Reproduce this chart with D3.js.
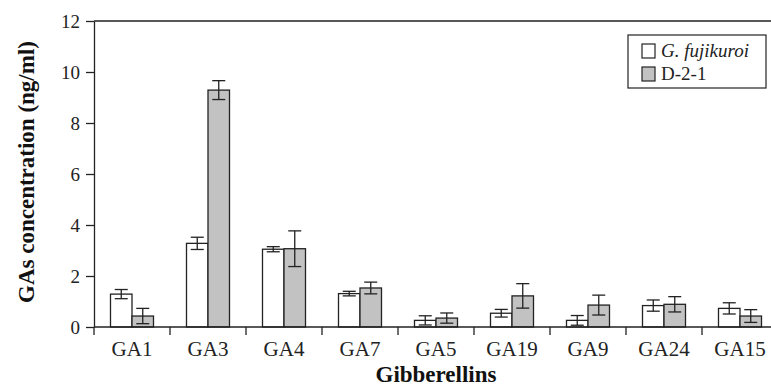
<!DOCTYPE html>
<html>
<head>
<meta charset="utf-8">
<script src="https://cdn.jsdelivr.net/npm/d3@7"></script>
<style>
  body { margin: 0; background: #fff; }
  svg { display: block; font-family: "Liberation Serif", "Times New Roman", serif; }
</style>
</head>
<body>
<svg id="chart" width="771" height="387"></svg>
<script>
// values
const categories = ['GA1', 'GA3', 'GA4', 'GA7', 'GA5', 'GA19', 'GA9', 'GA24', 'GA15'];
const fujikuroi = [1.29, 3.28, 3.05, 1.31, 0.26, 0.54, 0.26, 0.84, 0.73];
const fujikuroiErr = [0.18, 0.24, 0.1, 0.09, 0.18, 0.15, 0.19, 0.22, 0.22];
const d21 = [0.43, 9.29, 3.07, 1.53, 0.35, 1.22, 0.86, 0.89, 0.43];
const d21Err = [0.3, 0.37, 0.7, 0.23, 0.2, 0.48, 0.39, 0.3, 0.25];
const yTicks = [0, 2, 4, 6, 8, 10, 12];

const series = [
  { name: 'G. fujikuroi', italic: true, fill: '#fff', values: fujikuroi, err: fujikuroiErr },
  { name: 'D-2-1', italic: false, fill: '#c2c2c2', values: d21, err: d21Err }
];

const ink = '#222';
const svg = d3.select('#chart');
const mLeft = 94, mRight = 778, mTop = 21, mBottom = 327;

const x = d3.scaleBand().domain(categories).range([mLeft, mRight]);
const x1 = d3.scaleBand().domain([0, 1]).range([0, 43]);
const y = d3.scaleLinear().domain([0, 12]).range([mBottom, mTop]);

// frame: top + right lines
svg.append('path')
  .attr('d', `M${mLeft},${mTop}H${mRight}V${mBottom}`)
  .attr('fill', 'none').attr('stroke', ink).attr('stroke-width', 1.3);

// bars
series.forEach((s, si) => {
  const g = svg.append('g');
  const bx = d => x(d) + x.bandwidth() / 2 - 21.5 + x1(si);
  g.selectAll('rect').data(categories).enter().append('rect')
    .attr('x', bx)
    .attr('y', (d, i) => y(s.values[i]))
    .attr('width', x1.bandwidth())
    .attr('height', (d, i) => y(0) - y(s.values[i]))
    .attr('fill', s.fill).attr('stroke', ink).attr('stroke-width', 1.3);

  // error bars
  const eb = g.selectAll('g.err').data(categories).enter().append('g')
    .attr('stroke', ink).attr('stroke-width', 1.3);
  const cx = d => bx(d) + x1.bandwidth() / 2;
  eb.append('line')
    .attr('x1', cx).attr('x2', cx)
    .attr('y1', (d, i) => y(s.values[i] + s.err[i]))
    .attr('y2', (d, i) => y(Math.max(0, s.values[i] - s.err[i])));
  [1, -1].forEach(sign => {
    eb.append('line')
      .attr('x1', d => cx(d) - 6.5).attr('x2', d => cx(d) + 6.5)
      .attr('y1', (d, i) => y(Math.max(0, s.values[i] + sign * s.err[i])))
      .attr('y2', (d, i) => y(Math.max(0, s.values[i] + sign * s.err[i])));
  });
});

// y axis
const yAxis = svg.append('g')
  .attr('transform', `translate(${mLeft},0)`)
  .call(d3.axisLeft(y).tickValues(yTicks).tickSize(8).tickPadding(6).tickSizeOuter(0));
yAxis.select('.domain').attr('stroke', ink).attr('stroke-width', 1.3);
yAxis.selectAll('.tick line').attr('stroke', ink).attr('stroke-width', 1.3);
yAxis.selectAll('.tick text')
  .attr('font-family', '"Liberation Serif", serif').attr('font-size', 19).attr('fill', '#222');

// x axis (ticks between groups, pointing down)
const xAxis = svg.append('g').attr('transform', `translate(0,${mBottom})`);
xAxis.append('line').attr('x1', mLeft).attr('x2', mRight).attr('y1', 0).attr('y2', 0)
  .attr('stroke', ink).attr('stroke-width', 1.3);
xAxis.selectAll('line.sep').data(categories).enter().append('line')
  .attr('x1', d => x(d)).attr('x2', d => x(d))
  .attr('y1', 0).attr('y2', 8)
  .attr('stroke', ink).attr('stroke-width', 1.3);
xAxis.selectAll('text').data(categories).enter().append('text')
  .attr('x', d => x(d) + x.bandwidth() / 2)
  .attr('y', 29)
  .attr('text-anchor', 'middle')
  .attr('font-size', 21).attr('fill', '#222')
  .text(d => d);

// axis titles
svg.append('text')
  .attr('x', (mLeft + mRight) / 2).attr('y', 382)
  .attr('text-anchor', 'middle').attr('font-size', 23).attr('font-weight', 'bold').attr('fill', '#111')
  .text('Gibberellins');
svg.append('text')
  .attr('transform', `translate(34,172) rotate(-90)`)
  .attr('text-anchor', 'middle').attr('font-size', 23).attr('font-weight', 'bold').attr('fill', '#111')
  .text('GAs concentration (ng/ml)');

// legend
const lg = svg.append('g').attr('transform', 'translate(628,35)');
lg.append('rect').attr('width', 138).attr('height', 53)
  .attr('fill', '#fff').attr('stroke', ink).attr('stroke-width', 1.2);
series.forEach((s, i) => {
  lg.append('rect').attr('x', 14).attr('y', 9 + i * 23).attr('width', 13).attr('height', 14)
    .attr('fill', s.fill).attr('stroke', ink).attr('stroke-width', 1.2);
  lg.append('text').attr('x', 33).attr('y', 22 + i * 23)
    .attr('font-size', 19).attr('font-style', s.italic ? 'italic' : 'normal').attr('fill', '#222')
    .text(s.name);
});
</script>
</body>
</html>
